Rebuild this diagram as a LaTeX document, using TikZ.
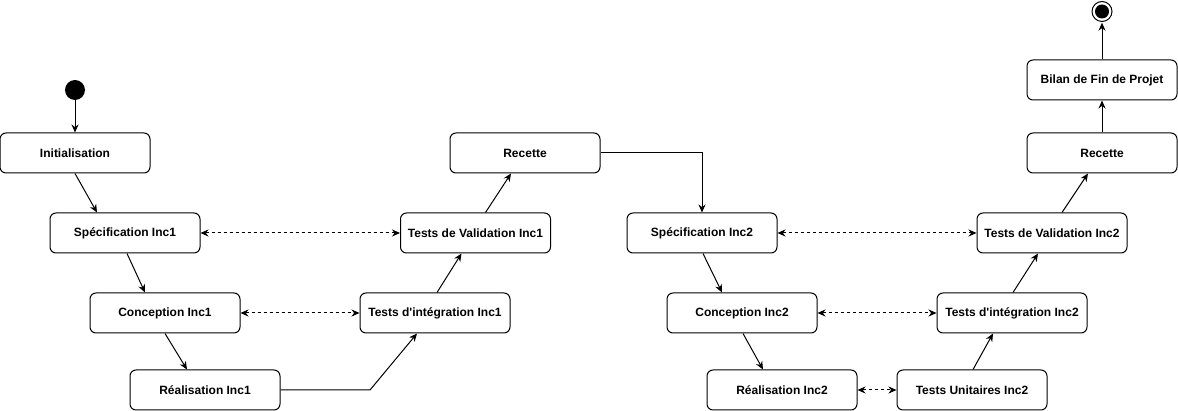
\documentclass[tikz,border=0pt]{standalone}
\usepackage{fontspec}
\setmainfont{Liberation Sans}
\usetikzlibrary{arrows.meta}

\tikzset{
  etat/.style={draw, line width=1pt, rounded corners=6pt, minimum width=150pt,
    minimum height=40pt, font=\fontsize{12}{14}\selectfont\bfseries, inner sep=0pt},
  fleche/.style={line width=1pt, -{Stealth[length=8pt,width=7pt]}},
  lien/.style={line width=1pt, dashed, dash pattern=on 3pt off 3pt,
    {Stealth[length=8pt,width=7pt]}-{Stealth[length=8pt,width=7pt]}}
}

\begin{document}
\begin{tikzpicture}[x=1pt,y=-1pt]
    \useasboundingbox (0,0) rectangle (1178,411);
    % debut et fin
    \fill (75,90) circle (10);
    \node[circle, minimum size=20pt, inner sep=0pt] (debut) at (75,90) {};
    \draw[line width=1pt] (1102,11.5) circle (10);
    \fill (1102,11.5) circle (7);
    \node[circle, minimum size=22pt, inner sep=0pt] (fin) at (1102,11.5) {};

    % increment 1
    \node[etat] (init) at (75,153) {Initialisation};
    \node[etat] (spec1) at (125,233) {Spécification Inc1};
    \node[etat] (conc1) at (165,313) {Conception Inc1};
    \node[etat] (real1) at (205,390) {Réalisation Inc1};
    \node[etat] (integ1) at (435,313) {Tests d\textquotesingle intégration Inc1};
    \node[etat] (valid1) at (475.5,233) {Tests de Validation Inc1};
    \node[etat] (recette1) at (525,153) {Recette};

    % increment 2
    \node[etat] (spec2) at (702,233) {Spécification Inc2};
    \node[etat] (conc2) at (742,313) {Conception Inc2};
    \node[etat] (real2) at (782,390) {Réalisation Inc2};
    \node[etat] (unit2) at (972,390) {Tests Unitaires Inc2};
    \node[etat] (integ2) at (1012,313) {Tests d\textquotesingle intégration Inc2};
    \node[etat] (valid2) at (1052,233) {Tests de Validation Inc2};
    \node[etat] (recette2) at (1102,153) {Recette};
    \node[etat] (bilan) at (1102,80) {Bilan de Fin de Projet};

    \coordinate (coude) at (370,390);

    \draw[fleche] (debut) -- (init);
    \draw[fleche] (init.south) -- ([xshift=-28pt]spec1.north);
    \draw[fleche] ([xshift=2pt]spec1.south) -- ([xshift=-20pt]conc1.north);
    \draw[fleche] (conc1.south) -- ([xshift=-18pt]real1.north);
    \draw[fleche] (real1.east) -- (coude) -- ([xshift=-18pt]integ1.south);
    \draw[fleche] ([xshift=2pt]integ1.north) -- ([xshift=-14pt]valid1.south);
    \draw[fleche] ([xshift=10pt]valid1.north) -- ([xshift=-14pt]recette1.south);
    \draw[fleche] (recette1.east) -| (spec2.north);

    \draw[fleche] ([xshift=1pt]spec2.south) -- ([xshift=-20pt]conc2.north);
    \draw[fleche] ([xshift=1pt]conc2.south) -- ([xshift=-19pt]real2.north);
    \draw[fleche] ([xshift=1pt]unit2.north) -- ([xshift=-19pt]integ2.south);
    \draw[fleche] ([xshift=1pt]integ2.north) -- ([xshift=-14pt]valid2.south);
    \draw[fleche] ([xshift=10pt]valid2.north) -- ([xshift=-14pt]recette2.south);
    \draw[fleche] (recette2) -- (bilan);
    \draw[fleche] (bilan) -- (fin);

    % liens pointilles
    \draw[lien] (spec1) -- (valid1);
    \draw[lien] (conc1) -- (integ1);
    \draw[lien] (spec2) -- (valid2);
    \draw[lien] (conc2) -- (integ2);
    \draw[lien] (real2) -- (unit2);
\end{tikzpicture}
\end{document}
